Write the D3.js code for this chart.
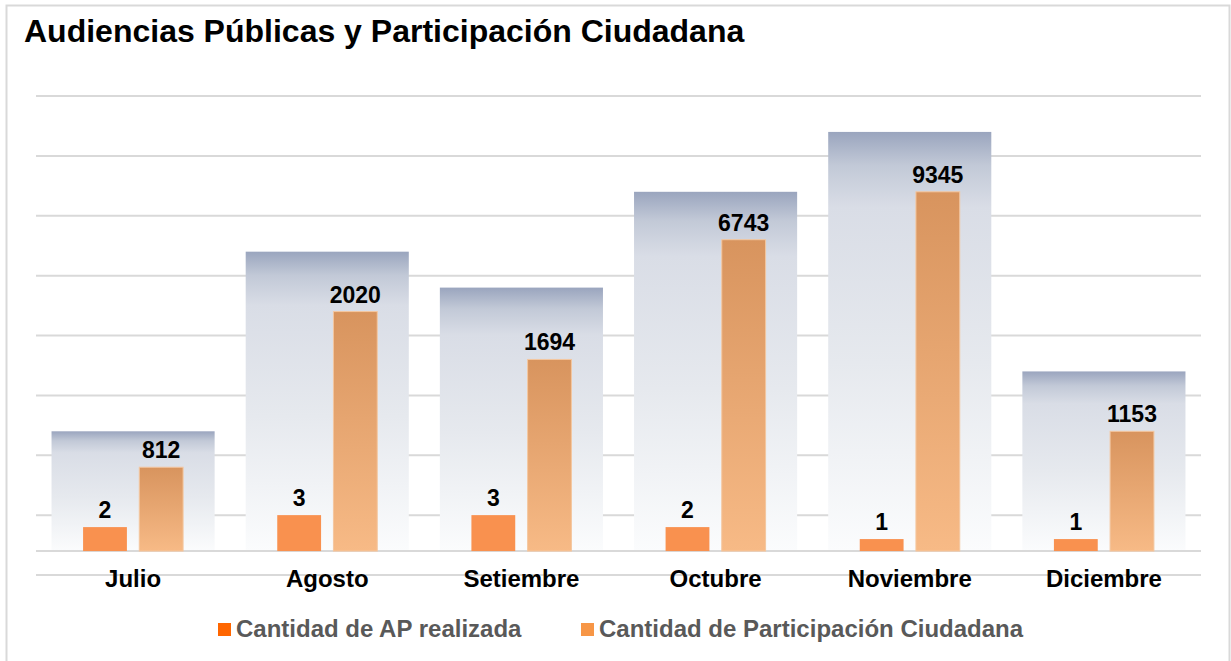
<!DOCTYPE html>
<html>
<head>
<meta charset="utf-8">
<script src="https://cdn.jsdelivr.net/npm/d3@7.9.0/dist/d3.min.js"></script>
<style>
  body { margin: 0; background: #fff; }
  svg { display: block; font-family: 'Liberation Sans', Arial, sans-serif; }
</style>
</head>
<body>
<div id="chart"></div>
<script>
const meses = ['Julio', 'Agosto', 'Setiembre', 'Octubre', 'Noviembre', 'Diciembre'];
const apRealizadas = [2, 3, 3, 2, 1, 1];
const participacion = [812, 2020, 1694, 6743, 9345, 1153];
// bar lengths as drawn in the picture, on its hidden value axis
const participacionAltura = [7, 20, 16, 26, 30, 10];
const fondoAltura = [10, 25, 22, 30, 35, 15];
const gridTicks = [-2, 3, 8, 13, 18, 23, 28, 33, 38];
const series = ['Cantidad de AP realizada', 'Cantidad de Participación Ciudadana'];

const width = 1231;
const height = 661;

const svg = d3.select('#chart')
  .append('svg')
  .attr('width', width)
  .attr('height', height);

const defs = svg.append('defs');

const gFondo = defs.append('linearGradient')
  .attr('id', 'fondo').attr('x1', 0).attr('y1', 0).attr('x2', 0).attr('y2', 1);
[['0%', '#9aa5be'], ['8%', '#c2c9d7'], ['18%', '#d9dde6'], ['55%', '#e6e9ee'], ['100%', '#fbfcfd']]
  .forEach(([o, c]) => gFondo.append('stop').attr('offset', o).attr('stop-color', c));

const gPart = defs.append('linearGradient')
  .attr('id', 'part').attr('x1', 0).attr('y1', 0).attr('x2', 0).attr('y2', 1);
[['0%', '#d8945e'], ['100%', '#f7ba86']]
  .forEach(([o, c]) => gPart.append('stop').attr('offset', o).attr('stop-color', c));

// frame
svg.append('rect')
  .attr('x', 6.5).attr('y', 5.5)
  .attr('width', 1223).attr('height', 720)
  .attr('fill', 'none')
  .attr('stroke', '#d9d9d9')
  .attr('stroke-width', 2);

svg.append('text')
  .attr('x', 24).attr('y', 42)
  .attr('font-size', 32)
  .attr('font-weight', 'bold')
  .attr('fill', '#000')
  .text('Audiencias Públicas y Participación Ciudadana');

const x = d3.scaleBand()
  .domain(meses)
  .range([36, 1201])
  .paddingInner(0.16)
  .paddingOuter(0.08);

const x1 = d3.scaleBand()
  .domain(['ap', 'part'])
  .range([-50, 50])
  .paddingInner(0.22);

const y = d3.scaleLinear().domain([-2, 38]).range([575, 96]);

// gridlines
svg.append('g')
  .attr('class', 'gridlines')
  .selectAll('line')
  .data(gridTicks)
  .join('line')
  .attr('x1', 36).attr('x2', 1201)
  .attr('y1', (d) => y(d)).attr('y2', (d) => y(d))
  .attr('stroke', '#d9d9d9')
  .attr('stroke-width', 2);

const rows = meses.map((m, i) => ({
  mes: m,
  ap: apRealizadas[i],
  part: participacion[i],
  partH: participacionAltura[i],
  fondo: fondoAltura[i],
}));

// background columns
svg.append('g')
  .selectAll('rect')
  .data(rows)
  .join('rect')
  .attr('x', (d) => x(d.mes))
  .attr('y', (d) => y(d.fondo))
  .attr('width', x.bandwidth())
  .attr('height', (d) => y(0) - y(d.fondo))
  .attr('fill', 'url(#fondo)');

// axis line at base
svg.append('line')
  .attr('x1', 36).attr('x2', 1201)
  .attr('y1', y(0)).attr('y2', y(0))
  .attr('stroke', '#d9d9d9')
  .attr('stroke-width', 2);

const groups = svg.append('g')
  .selectAll('g')
  .data(rows)
  .join('g')
  .attr('transform', (d) => `translate(${x(d.mes) + x.bandwidth() / 2},0)`);

groups.append('rect')
  .attr('x', x1('ap'))
  .attr('y', (d) => y(d.ap))
  .attr('width', x1.bandwidth())
  .attr('height', (d) => y(0) - y(d.ap))
  .attr('fill', '#f9914f');

groups.append('rect')
  .attr('x', x1('part'))
  .attr('y', (d) => y(d.partH))
  .attr('width', x1.bandwidth())
  .attr('height', (d) => y(0) - y(d.partH))
  .attr('fill', 'url(#part)')
  .attr('stroke', '#f4c7a0')
  .attr('stroke-width', 1);

groups.append('text')
  .attr('x', x1('ap') + x1.bandwidth() / 2)
  .attr('y', (d) => y(d.ap) - 9)
  .attr('text-anchor', 'middle')
  .attr('font-size', 23)
  .attr('font-weight', 'bold')
  .text((d) => d.ap);

groups.append('text')
  .attr('x', x1('part') + x1.bandwidth() / 2)
  .attr('y', (d) => y(d.partH) - 9)
  .attr('text-anchor', 'middle')
  .attr('font-size', 23)
  .attr('font-weight', 'bold')
  .text((d) => d.part);

groups.append('text')
  .attr('x', 0)
  .attr('y', 587)
  .attr('text-anchor', 'middle')
  .attr('font-size', 24)
  .attr('font-weight', 'bold')
  .text((d) => d.mes);

// legend
const legendColors = ['#ff6600', '#f79646'];
const legendX = [218, 581];
const legend = svg.append('g')
  .selectAll('g')
  .data(series)
  .join('g')
  .attr('transform', (d, i) => `translate(${legendX[i]},623)`);

legend.append('rect')
  .attr('width', 13).attr('height', 13)
  .attr('fill', (d, i) => legendColors[i]);

legend.append('text')
  .attr('x', 18).attr('y', 14)
  .attr('font-size', 24)
  .attr('font-weight', 'bold')
  .attr('fill', '#595959')
  .text((d) => d);
</script>
</body>
</html>
